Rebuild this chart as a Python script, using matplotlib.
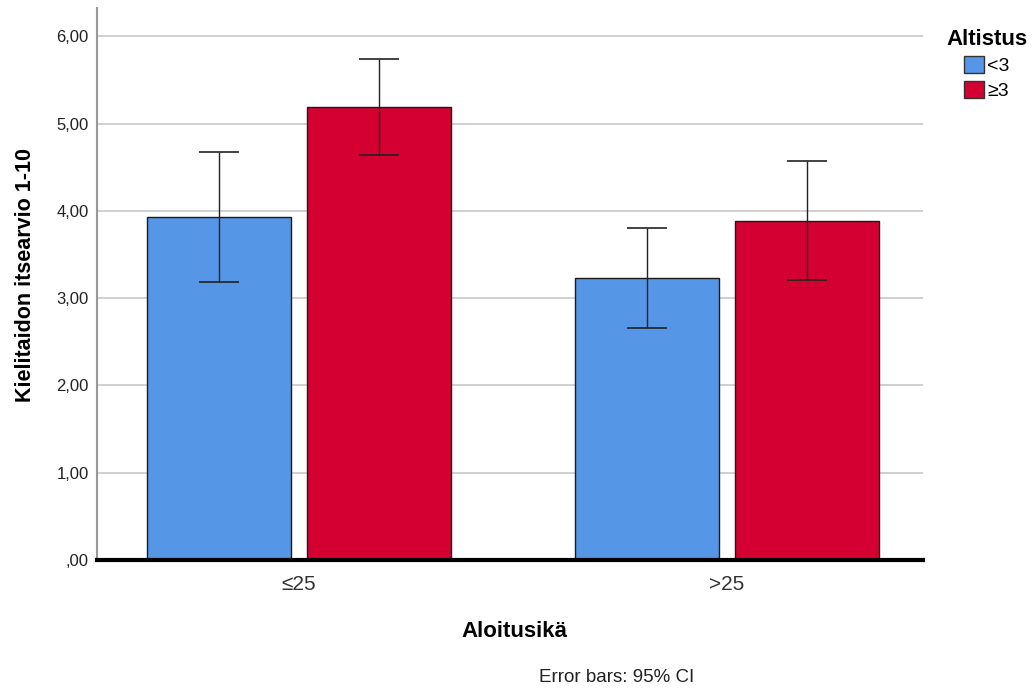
import numpy as np
from matplotlib import pyplot as plt
from matplotlib.patches import Patch

plt.rcParams['font.family'] = ['Liberation Sans', 'DejaVu Sans']

# group means and 95% CI bounds
groups = ['≤25', '>25']
series = ['<3', '≥3']
means = {'<3': [3.93, 3.23], '≥3': [5.19, 3.88]}
ci_low = {'<3': [3.18, 2.66], '≥3': [4.64, 3.21]}
ci_high = {'<3': [4.67, 3.80], '≥3': [5.74, 4.57]}
colors = {'<3': '#5596E6', '≥3': '#D50032'}

y_ticks = [0, 1, 2, 3, 4, 5, 6]
y_tick_labels = [',00', '1,00', '2,00', '3,00', '4,00', '5,00', '6,00']

fig = plt.figure(figsize=(10.35, 6.91), dpi=100)
ax = fig.add_axes([0.0937, 0.1896, 0.798, 0.7984])

x = np.arange(len(groups))
width = 0.336
offsets = [-0.187, 0.187]

for off, s in zip(offsets, series):
    m = np.array(means[s])
    lo = m - np.array(ci_low[s])
    hi = np.array(ci_high[s]) - m
    ax.bar(x + off, m, width, color=colors[s], edgecolor='#1a1a1a', linewidth=1.0, zorder=2)
    ax.errorbar(x + off, m, yerr=[lo, hi], fmt='none', ecolor='#222222',
                elinewidth=1.0, capsize=14.5, capthick=1.2, zorder=3)

ax.set_xlim(-0.472, 1.458)
ax.set_ylim(0, 6.32)
ax.set_yticks(y_ticks)
ax.set_yticklabels(y_tick_labels, fontsize=12, color='#222222')
ax.set_xticks(x)
ax.set_xticklabels(groups, fontsize=15, color='#333333')
ax.tick_params(axis='x', length=0, pad=11)
ax.tick_params(axis='y', length=0, pad=6)

ax.yaxis.grid(True, color='#c8c8c8', linewidth=1.2, zorder=0)
ax.set_axisbelow(True)

for side in ['top', 'right']:
    ax.spines[side].set_visible(False)
ax.spines['left'].set_color('#999999')
ax.spines['left'].set_linewidth(1.5)
ax.spines['bottom'].set_color('black')
ax.spines['bottom'].set_linewidth(3)
ax.spines['bottom'].set_zorder(4)

ax.set_ylabel('Kielitaidon itsearvio 1-10', fontsize=15.5, fontweight='bold')
ax.yaxis.label.set_va('center')
ax.yaxis.set_label_coords(-0.086, 0.517)
ax.set_xlabel('Aloitusikä', fontsize=16, fontweight='bold')
ax.xaxis.label.set_va('center')
ax.xaxis.set_label_coords(0.506, -0.130)

handles = [Patch(facecolor=colors[s], edgecolor='#333333', label=s) for s in series]
leg = fig.legend(handles=handles, title='Altistus', loc='upper left',
                 bbox_to_anchor=(0.905, 0.972), frameon=False, fontsize=14,
                 title_fontproperties={'weight': 'bold', 'size': 16},
                 handlelength=1.0, handleheight=0.95, handletextpad=0.2,
                 labelspacing=0.3, borderpad=0)

fig.text(0.596, 0.019, 'Error bars: 95% CI', fontsize=13.5, ha='center', va='center',
         color='#222222')

fig.savefig('out.png', dpi=100)
